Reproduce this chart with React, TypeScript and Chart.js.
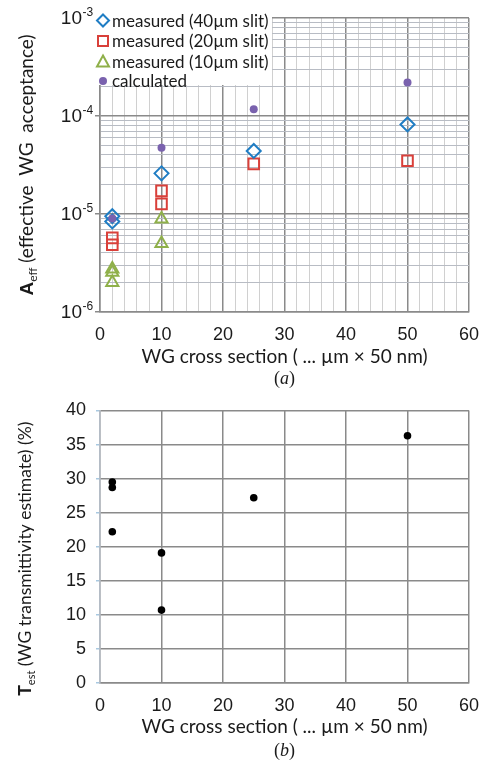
import React, { useEffect, useRef } from 'react';
import { Chart, registerables } from 'chart.js';
Chart.register(...registerables);

// ---------- data ----------
const X_TICKS_MAJOR = [0, 10, 20, 30, 40, 50, 60];
const Y_DECADES = [1e-6, 1e-5, 1e-4, 1e-3];
const Y_DECADE_EXP = ['-6', '-5', '-4', '-3'];
const Y_MINOR_MULT = [2, 3, 4, 5, 6, 7, 8, 9];

const LEGEND_LABELS = ['measured (40µm slit)', 'measured (20µm slit)', 'measured (10µm slit)', 'calculated'];

const wg40X = [2, 2, 10, 25, 50];
const wg40Y = [9.5e-6, 8.4e-6, 2.6e-5, 4.4e-5, 8.2e-5];
const wg20X = [2, 2, 10, 10, 25, 50];
const wg20Y = [5.7e-6, 4.85e-6, 1.72e-5, 1.27e-5, 3.25e-5, 3.5e-5];
const wg10X = [2, 2, 2, 10, 10];
const wg10Y = [2.75e-6, 2.55e-6, 2.0e-6, 8.9e-6, 5.0e-6];
const calcX = [2, 10, 25, 50];
const calcY = [9.0e-6, 4.75e-5, 1.17e-4, 2.2e-4];

const tX = [2, 2, 2, 10, 10, 25, 50];
const tY = [29.5, 28.7, 22.2, 19.1, 10.7, 27.2, 36.3];

// ---------- style ----------
const BLUE = '#1f7dc4';
const RED = '#d9403a';
const GREEN = '#8fb04a';
const PURPLE = '#7a62ae';
const MAJOR = '#8a8a8a';
const MINOR_V = '#d0d0d0';
const MINOR_H = '#b8bcc4';
const TXT = '#1a1a1a';
const FONT_TEXT = 'Lato, "Open Sans", sans-serif';
const FONT_NUM = '"Liberation Sans", Arial, sans-serif';

const pts = (xs: number[], ys: number[]) => xs.map((x, i) => ({ x, y: ys[i] }));
const isDecade = (v: number) => Math.abs(Math.log10(v) - Math.round(Math.log10(v))) < 1e-6;
const Y_TICK_VALUES: number[] = [];
Y_DECADES.forEach((d, i) => {
  Y_TICK_VALUES.push(d);
  if (i < Y_DECADES.length - 1) Y_MINOR_MULT.forEach((m) => Y_TICK_VALUES.push(Number((m * d).toPrecision(3))));
});

function yTitlePlugin(id: string, main: string, sub: string, rest: string, baseX: number, yOff: number, size: number) {
  return {
    id,
    afterDraw(chart: any) {
      const ctx = chart.ctx;
      const a = chart.chartArea;
      ctx.save();
      const fMain = `bold ${size}px ${FONT_NUM}`;
      const fSub = `${Math.round(size * 0.62)}px ${FONT_TEXT}`;
      const fRest = `${size}px ${FONT_TEXT}`;
      ctx.font = fMain; const w1 = ctx.measureText(main).width;
      ctx.font = fSub; const w2 = ctx.measureText(sub).width;
      ctx.font = fRest; const w3 = ctx.measureText(rest).width;
      const total = w1 + w2 + w3;
      const cy = (a.top + a.bottom) / 2 + yOff;
      ctx.translate(baseX, cy);
      ctx.rotate(-Math.PI / 2);
      ctx.fillStyle = TXT;
      ctx.textBaseline = 'alphabetic';
      ctx.textAlign = 'left';
      let x = -total / 2;
      ctx.font = fMain; ctx.fillText(main, x, 0); x += w1;
      ctx.font = fSub; ctx.fillText(sub, x, 4); x += w2;
      ctx.font = fRest; ctx.fillText(rest, x, 0);
      ctx.restore();
    },
  };
}

function drawMarker(ctx: CanvasRenderingContext2D, kind: string, x: number, y: number, color: string) {
  ctx.save();
  ctx.strokeStyle = color;
  ctx.fillStyle = color;
  ctx.lineWidth = 2;
  ctx.beginPath();
  if (kind === 'diamond') {
    ctx.moveTo(x, y - 6); ctx.lineTo(x + 6, y); ctx.lineTo(x, y + 6); ctx.lineTo(x - 6, y); ctx.closePath(); ctx.stroke();
  } else if (kind === 'square') {
    ctx.rect(x - 5, y - 5, 10, 10); ctx.stroke();
  } else if (kind === 'triangle') {
    ctx.moveTo(x, y - 6); ctx.lineTo(x + 6, y + 5); ctx.lineTo(x - 6, y + 5); ctx.closePath(); ctx.stroke();
  } else {
    ctx.arc(x, y, 4, 0, Math.PI * 2); ctx.fill();
  }
  ctx.restore();
}

const legendPlugin = {
  id: 'customLegend',
  beforeDatasetsDraw(chart: any) {
    const ctx = chart.ctx;
    ctx.save();
    ctx.fillStyle = '#ffffff';
    ctx.fillRect(90, 0, 182, 85);
    ctx.restore();
  },
  afterDraw(chart: any) {
    const ctx = chart.ctx;
    const kinds = ['diamond', 'square', 'triangle', 'circle'];
    const colors = [BLUE, RED, GREEN, PURPLE];
    const rows = [20.5, 41, 61.5, 81];
    ctx.save();
    LEGEND_LABELS.forEach((lab, i) => {
      drawMarker(ctx, kinds[i], 103, rows[i], colors[i]);
      ctx.font = `17px ${FONT_TEXT}`;
      ctx.fillStyle = TXT;
      ctx.textBaseline = 'middle';
      ctx.textAlign = 'left';
      ctx.fillText(lab, 112, rows[i] + 1);
    });
    ctx.restore();
  },
};

const yLogLabelPlugin = {
  id: 'yLogLabels',
  afterDraw(chart: any) {
    const ctx = chart.ctx;
    const s = chart.scales.y;
    ctx.save();
    ctx.fillStyle = TXT;
    Y_DECADES.forEach((v, i) => {
      const y = s.getPixelForValue(v);
      ctx.font = `19px ${FONT_NUM}`;
      ctx.textAlign = 'right';
      ctx.textBaseline = 'middle';
      ctx.fillText('10', 82, y + 1);
      ctx.font = `12px ${FONT_NUM}`;
      ctx.textAlign = 'left';
      ctx.fillText(Y_DECADE_EXP[i], 82.5, y - 5);
    });
    ctx.restore();
  },
};

const fitX = (h: number) => (s: any) => {
  s.height = h;
  s.paddingLeft = 0;
  s.paddingRight = 0;
};
const fitY = (s: any) => {
  s.width = 100;
  s.paddingTop = 0;
  s.paddingBottom = 0;
};

function App() {
  const topRef = useRef<HTMLCanvasElement>(null);
  const botRef = useRef<HTMLCanvasElement>(null);

  useEffect(() => {
    const common = (color: string) => ({
      borderColor: color,
      backgroundColor: 'rgba(0,0,0,0)',
      pointBorderColor: color,
      pointBackgroundColor: 'rgba(0,0,0,0)',
      pointBorderWidth: 2,
      showLine: false,
    });
    const c1 = new Chart(topRef.current as HTMLCanvasElement, {
      type: 'scatter',
      data: {
        datasets: [
          { label: LEGEND_LABELS[3], data: pts(calcX, calcY), pointStyle: 'circle', pointRadius: 4, order: 0, ...common(PURPLE), pointBackgroundColor: PURPLE, pointBorderWidth: 0 } as any,
          { label: LEGEND_LABELS[0], data: pts(wg40X, wg40Y), pointStyle: 'rectRot', pointRadius: 7, order: 1, ...common(BLUE) },
          { label: LEGEND_LABELS[1], data: pts(wg20X, wg20Y), pointStyle: 'rect', pointRadius: 7.5, order: 2, ...common(RED) },
          { label: LEGEND_LABELS[2], data: pts(wg10X, wg10Y), pointStyle: 'triangle', pointRadius: 7, order: 3, ...common(GREEN) },
        ],
      },
      options: {
        responsive: false,
        animation: false,
        devicePixelRatio: 1,
        layout: { padding: { top: 18, right: 11, left: 0, bottom: 0 } },
        plugins: { legend: { display: false }, tooltip: { enabled: false } },
        scales: {
          x: {
            type: 'linear',
            min: 0,
            max: 60,
            afterFit: fitX(58),
            afterBuildTicks: (s: any) => {
              const t: any[] = [];
              for (let v = 0; v <= 60; v += 2) t.push({ value: v });
              s.ticks = t;
            },
            ticks: {
              autoSkip: false,
              maxRotation: 0,
              padding: 12,
              color: TXT,
              font: { family: FONT_NUM, size: 18 },
              callback: (v: any) => (X_TICKS_MAJOR.includes(Number(v)) ? String(v) : ''),
            },
            grid: {
              drawTicks: false,
              color: (c: any) => (c.tick && c.tick.value % 10 === 0 ? MAJOR : MINOR_V),
              lineWidth: (c: any) => (c.tick && c.tick.value % 10 === 0 ? 1.5 : 1),
            },
            border: { color: MAJOR, width: 1.5 },
            title: {
              display: true,
              text: 'WG cross section ( ... µm × 50 nm)',
              color: TXT,
              font: { family: FONT_TEXT, size: 19 },
              padding: { top: 0, bottom: 2 },
            },
          },
          y: {
            type: 'logarithmic',
            min: 1e-6,
            max: 1e-3,
            afterFit: fitY,
            afterBuildTicks: (s: any) => { s.ticks = Y_TICK_VALUES.map((v) => ({ value: v, major: isDecade(v) })); },
            ticks: { display: false, autoSkip: false },
            grid: {
              tickLength: 5,
              color: (c: any) => (c.tick && isDecade(c.tick.value) ? MAJOR : MINOR_H),
              lineWidth: (c: any) => (c.tick && isDecade(c.tick.value) ? 1.5 : 1),
              tickColor: (c: any) => (c.tick && isDecade(c.tick.value) ? MAJOR : 'rgba(0,0,0,0)'),
            },
            border: { color: MAJOR, width: 1.5 },
          },
        },
      } as any,
      plugins: [legendPlugin, yLogLabelPlugin, yTitlePlugin('yt1', 'A', 'eff', ' (effective  WG  acceptance)', 33, 0, 19)],
    });

    const c2 = new Chart(botRef.current as HTMLCanvasElement, {
      type: 'scatter',
      data: {
        datasets: [
          {
            label: 'Test',
            data: pts(tX, tY),
            pointStyle: 'circle',
            pointRadius: 3.8,
            pointBackgroundColor: '#000',
            pointBorderWidth: 0,
            showLine: false,
          } as any,
        ],
      },
      options: {
        responsive: false,
        animation: false,
        devicePixelRatio: 1,
        layout: { padding: { top: 20.5, right: 11, left: 0, bottom: 26 } },
        plugins: { legend: { display: false }, tooltip: { enabled: false } },
        scales: {
          x: {
            type: 'linear',
            min: 0,
            max: 60,
            afterFit: fitX(57),
            ticks: { stepSize: 10, maxRotation: 0, padding: 12, color: TXT, font: { family: FONT_NUM, size: 18 } },
            grid: { drawTicks: false, color: MAJOR, lineWidth: 1.5 },
            border: { color: MAJOR, width: 1.5 },
            title: {
              display: true,
              text: 'WG cross section ( ... µm × 50 nm)',
              color: TXT,
              font: { family: FONT_TEXT, size: 19 },
              padding: { top: 0, bottom: 2 },
            },
          },
          y: {
            type: 'linear',
            min: 0,
            max: 40,
            afterFit: fitY,
            ticks: { stepSize: 5, padding: 10, color: TXT, font: { family: FONT_NUM, size: 18 } },
            grid: { color: MAJOR, lineWidth: 1.5, tickLength: 4, tickColor: '#a8c8e0' },
            border: { color: '#b4bcc6', width: 1.5 },
          },
        },
      } as any,
      plugins: [yTitlePlugin('yt2', 'T', 'est', ' (WG transmittivity estimate) (%)', 31, 12, 17.5)],
    });

    return () => {
      c1.destroy();
      c2.destroy();
    };
  }, []);

  const capStyle: React.CSSProperties = {
    position: 'absolute',
    left: 0,
    width: 569,
    textAlign: 'center',
    fontFamily: '"Liberation Serif", "Times New Roman", serif',
    fontSize: 18,
    color: TXT,
    lineHeight: '20px',
  };

  return (
    <div style={{ position: 'absolute', left: 0, top: 0, width: 480, height: 766, background: '#fff', overflow: 'hidden' }}>
      <canvas ref={topRef} width={480} height={370} style={{ position: 'absolute', left: 0, top: 0, width: 480, height: 370 }} />
      <canvas ref={botRef} width={480} height={376} style={{ position: 'absolute', left: 0, top: 390, width: 480, height: 376 }} />
      <div style={{ ...capStyle, top: 368 }}>(<i>a</i>)</div>
      <div style={{ ...capStyle, top: 740 }}>(<i>b</i>)</div>
    </div>
  );
}

export default App;
